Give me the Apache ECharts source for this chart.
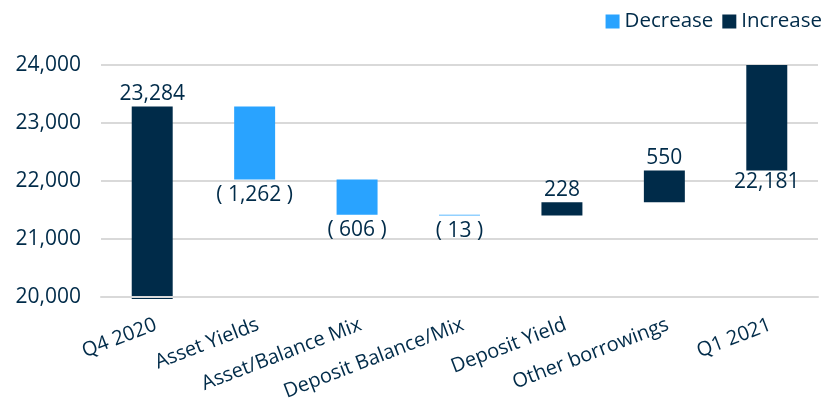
<!DOCTYPE html>
<html>
<head>
<meta charset="utf-8">
<script src="https://cdn.jsdelivr.net/npm/echarts@6/dist/echarts.min.js"></script>
<style>
html,body{margin:0;padding:0;background:#fff;}
#chart{width:829px;height:403px;}
</style>
</head>
<body>
<div id="chart"></div>
<script>
const categories = ['Q4 2020', 'Asset Yields', 'Asset/Balance Mix', 'Deposit Balance/Mix', 'Deposit Yield', 'Other borrowings', 'Q1 2021'];
const startTotal = 23284;
const changes = [-1262, -606, -13, 228, 550];
const endTotal = 22181;
const yMin = 20000, yMax = 24000, yInterval = 1000;

const navy = '#002B49';
const lightBlue = '#29A3FF';
const FONT = '"Open Sans", sans-serif';

// Build waterfall series
const base = [], dec = [], inc = [], labelVals = [];
base.push(yMin - 40); inc.push(startTotal - (yMin - 40)); dec.push('-'); labelVals.push(startTotal);
let running = startTotal;
changes.forEach(c => {
  if (c < 0) {
    base.push(running + c); dec.push(-c); inc.push('-');
  } else {
    base.push(running); inc.push(c); dec.push('-');
  }
  running += c;
  labelVals.push(c);
});
base.push(endTotal); inc.push(yMax - endTotal); dec.push('-'); labelVals.push(endTotal);

const fmt = v => Math.abs(v).toLocaleString('en-US');

const incData = inc.map((v, i) => {
  if (v === '-') return '-';
  const isEnd = i === categories.length - 1;
  return {
    value: v,
    label: {
      show: true,
      position: isEnd ? 'bottom' : 'top',
      distance: isEnd ? 1 : 2,
      formatter: () => fmt(labelVals[i])
    }
  };
});
const decData = dec.map((v, i) => {
  if (v === '-') return '-';
  return {
    value: v,
    label: { show: true, position: 'bottom', distance: 5, formatter: () => '( ' + fmt(labelVals[i]) + ' )' }
  };
});

const chart = echarts.init(document.getElementById('chart'));
chart.setOption({
  animation: false,
  legend: {
    data: ['Decrease', 'Increase'],
    right: 2, top: 6,
    itemWidth: 14, itemHeight: 14, itemGap: 9,
    icon: 'rect',
    textStyle: { color: navy, fontSize: 20.5, fontFamily: FONT, padding: [0, 0, 0, 0] }
  },
  grid: { left: 101, right: 11, top: 65, bottom: 106 },
  xAxis: {
    type: 'category',
    data: categories,
    z: 5,
    axisLine: { lineStyle: { color: '#d9d9d9', width: 2 } },
    axisTick: { show: false },
    axisLabel: { rotate: 21, color: navy, fontSize: 20, fontFamily: FONT, margin: 18, interval: 0, verticalAlign: 'top' }
  },
  yAxis: {
    type: 'value',
    min: yMin, max: yMax, interval: yInterval,
    axisLine: { show: false }, axisTick: { show: false },
    splitLine: { lineStyle: { color: '#d9d9d9', width: 2 } },
    axisLabel: { color: navy, fontSize: 21, fontFamily: FONT, margin: 20, formatter: v => v.toLocaleString('en-US') }
  },
  series: [
    { name: 'base', type: 'bar', stack: 'w', data: base, barWidth: '40%', clip: false,
      itemStyle: { color: 'transparent' }, silent: true, label: { show: false } },
    { name: 'Decrease', type: 'bar', stack: 'w', data: decData, barWidth: '40%', clip: false,
      itemStyle: { color: lightBlue },
      label: { color: navy, fontSize: 21, fontFamily: FONT } },
    { name: 'Increase', type: 'bar', stack: 'w', data: incData, barWidth: '40%', clip: false,
      itemStyle: { color: navy },
      label: { color: navy, fontSize: 21, fontFamily: FONT } }
  ]
});
</script>
</body>
</html>
